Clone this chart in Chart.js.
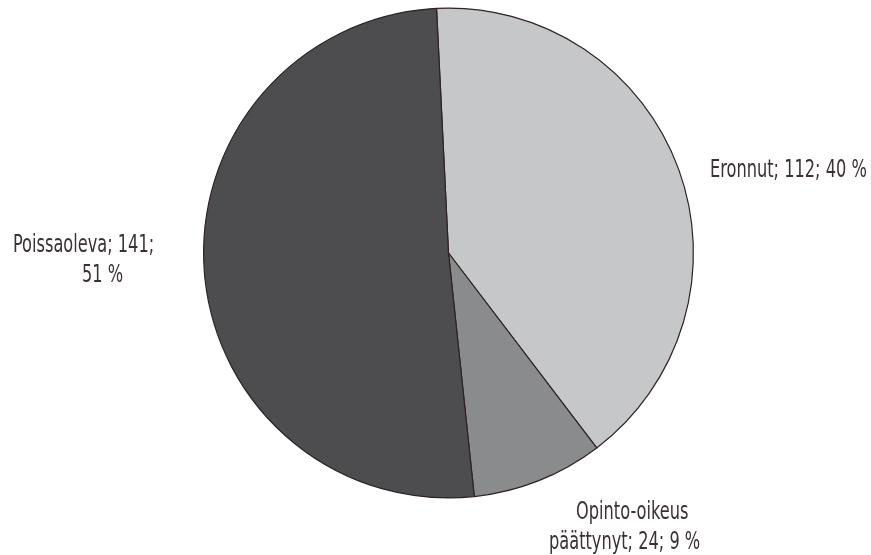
<!DOCTYPE html>
<html>
<head>
<meta charset="utf-8">
<script src="https://cdn.jsdelivr.net/npm/chart.js@4"></script>
<style>
  html, body { margin: 0; padding: 0; background: #fff; }
  #wrap { width: 871px; height: 555px; }
</style>
</head>
<body>
<div id="wrap"><canvas id="myChart" width="871" height="555"></canvas></div>
<script>
// data
var categories = ["Eronnut", "Opinto-oikeus päättynyt", "Poissaoleva"];
var counts = [112, 24, 141];
var percents = [40, 9, 51];
var sliceColors = ["#c6c7c9", "#8a8b8d", "#4d4d4f"];

// label text lines, as in the picture
var labelLines = [
  ["Eronnut; " + counts[0] + "; " + percents[0] + " %"],
  ["Opinto-oikeus", "päättynyt; " + counts[1] + "; " + percents[1] + " %"],
  ["Poissaoleva; " + counts[2] + ";", percents[2] + " %"]
];

// where each label sits (px); indent is per line
var labelPlace = [
  { x: 710, y: 177, indent: [0] },
  { x: 549, y: 519, indent: [27, 0] },
  { x: 13, y: 252, indent: [0, 69] }
];

// the original font is a condensed one, squeeze the text a bit
var squeeze = 0.75;

var pieLabels = {
  id: "pieLabels",
  afterDraw: function(chart) {
    var ctx = chart.ctx;
    ctx.save();
    ctx.fillStyle = "#3b3132";
    ctx.font = "24px 'Liberation Sans Narrow', 'DejaVu Sans Condensed', sans-serif";
    ctx.textBaseline = "alphabetic";
    ctx.textAlign = "left";
    labelLines.forEach(function(lines, i) {
      var p = labelPlace[i];
      lines.forEach(function(t, j) {
        ctx.save();
        ctx.translate(p.x + p.indent[j], p.y + j * 30);
        ctx.scale(squeeze, 1);
        ctx.fillText(t, 0, 0);
        ctx.restore();
      });
    });
    ctx.restore();
  }
};

new Chart("myChart", {
  type: "pie",
  data: {
    labels: categories,
    datasets: [{
      data: counts,
      backgroundColor: sliceColors,
      borderColor: "#2e2223",
      borderWidth: 1.2
    }]
  },
  options: {
    responsive: false,
    animation: false,
    rotation: -2.8,
    layout: { padding: { left: 203, right: 177, top: 7, bottom: 56 } },
    plugins: {
      legend: { display: false },
      tooltip: { enabled: false }
    }
  },
  plugins: [pieLabels]
});
</script>
</body>
</html>
